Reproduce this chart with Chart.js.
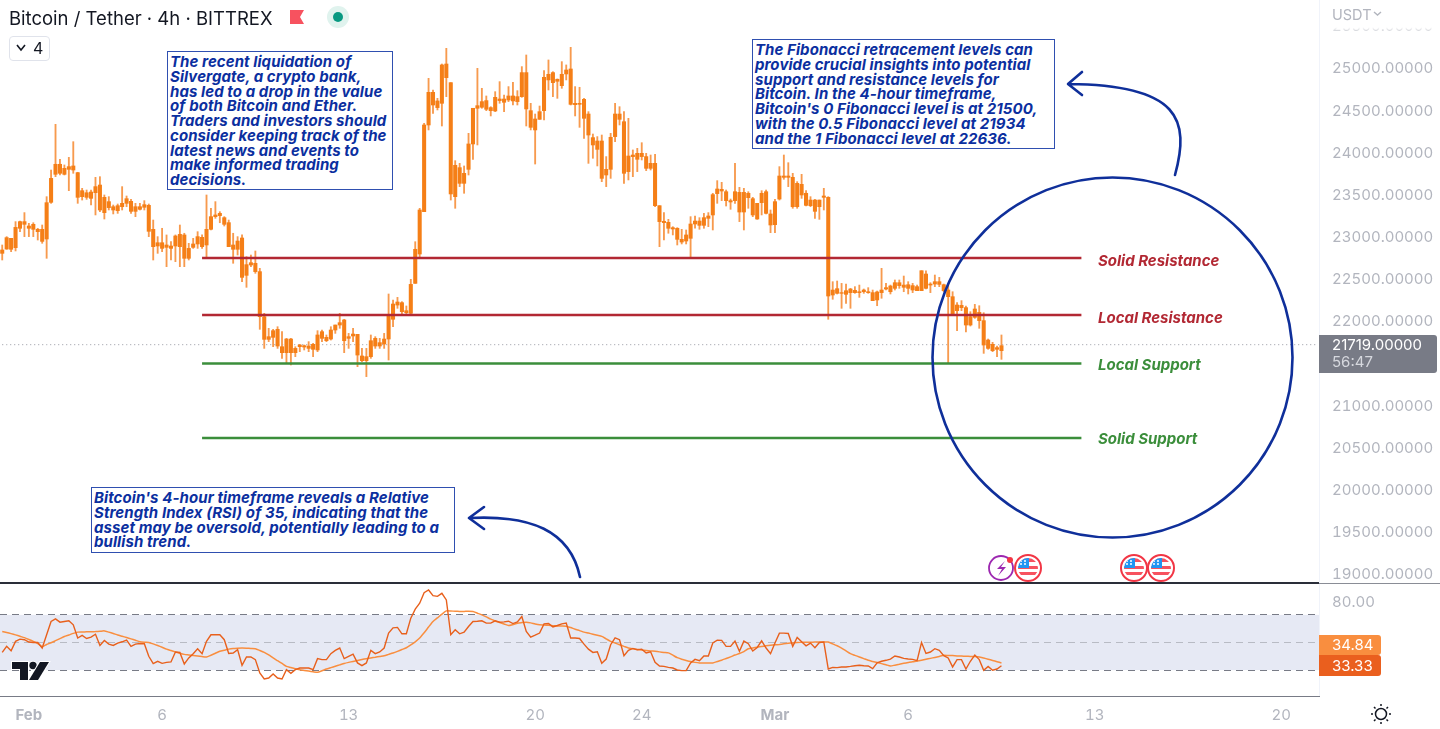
<!DOCTYPE html>
<html><head><meta charset="utf-8"><title>Bitcoin / Tether 4h</title>
<script src="https://cdn.jsdelivr.net/npm/chart.js@4"></script>
<style>
html,body{margin:0;padding:0;background:#fff;width:1440px;height:729px;overflow:hidden;font-family:Inter,sans-serif;font-variant-numeric:tabular-nums}
#c{position:absolute;left:0;top:0}
.t{position:absolute;white-space:nowrap}
.note{position:absolute;background:#fff;border:1.5px solid #2f4fb0;box-sizing:border-box;color:#0b2f9f;font:italic 700 15px/14.75px Inter,sans-serif;letter-spacing:.08px;padding:3px 2px 0 2px;white-space:nowrap}
.lvl{position:absolute;font:italic 700 15px/18px Inter,sans-serif;white-space:nowrap}
.r{color:#b22833}.g{color:#3b8e3b}
svg{position:absolute;left:0;top:0;pointer-events:none}
</style></head><body>
<canvas id="c" width="1440" height="729"></canvas>
<div style="position:absolute;left:1319px;top:0;width:1px;height:696px;background:#f0f3fa"></div>
<div style="position:absolute;left:0;top:582px;width:1319px;height:2px;background:#2a2e39"></div>
<div style="position:absolute;left:1319px;top:583px;width:121px;height:1px;background:#8a8d96"></div>
<div style="position:absolute;left:1320px;top:0;width:120px;height:34px;background:linear-gradient(#fff 80%,rgba(255,255,255,0))"></div>
<div class="t" style="left:1332px;top:6px;font:14.5px/18px Inter,sans-serif;color:#b2b5be">USDT</div>
<div class="t" style="left:9px;top:6px;font:18.5px/24px Inter,sans-serif;color:#131722">Bitcoin / Tether · 4h · BITTREX</div>
<div style="position:absolute;left:9px;top:36px;width:39px;height:23px;border:1px solid #e0e3eb;border-radius:4px"></div>
<div class="t" style="left:33px;top:38px;font:16px/20px Inter,sans-serif;color:#131722">4</div>
<div class="note" style="left:167px;top:51px;width:226px;height:139px">The recent liquidation of<br>Silvergate, a crypto bank,<br>has led to a drop in the value<br>of both Bitcoin and Ether.<br>Traders and investors should<br>consider keeping track of the<br>latest news and events to<br>make informed trading<br>decisions.</div>
<div class="note" style="left:752px;top:39px;width:303px;height:110px">The Fibonacci retracement levels can<br>provide crucial insights into potential<br>support and resistance levels for<br>Bitcoin. In the 4-hour timeframe,<br>Bitcoin's 0 Fibonacci level is at 21500,<br>with the 0.5 Fibonacci level at 21934<br>and the 1 Fibonacci level at 22636.</div>
<div class="note" style="left:91px;top:487px;width:364px;height:66px">Bitcoin's 4-hour timeframe reveals a Relative<br>Strength Index (RSI) of 35, indicating that the<br>asset may be oversold, potentially leading to a<br>bullish trend.</div>
<div class="lvl r" style="left:1098px;top:252px">Solid Resistance</div>
<div class="lvl r" style="left:1098px;top:309px">Local Resistance</div>
<div class="lvl g" style="left:1098px;top:356px">Local Support</div>
<div class="lvl g" style="left:1098px;top:430px">Solid Support</div>
<div style="position:absolute;left:1319px;top:335px;width:118px;height:38px;background:#787b86;border-radius:0 3px 3px 0"></div>
<div class="t" style="left:1332px;top:336px;font:15px/18px Inter,sans-serif;color:#fff">21719.00000</div>
<div class="t" style="left:1332px;top:353px;font:15px/18px Inter,sans-serif;color:#d6d8de">56:47</div>
<div style="position:absolute;left:1319px;top:635px;width:62px;height:20px;background:#f98e3f;border-radius:0 3px 3px 0"></div>
<div class="t" style="left:1332px;top:636px;font:15px/18px Inter,sans-serif;color:#fff">34.84</div>
<div style="position:absolute;left:1319px;top:655px;width:62px;height:21px;background:#ea5f1e;border-radius:0 3px 3px 0"></div>
<div class="t" style="left:1332px;top:657px;font:15px/18px Inter,sans-serif;color:#fff">33.33</div>
<svg width="1440" height="729" viewBox="0 0 1440 729" fill="none">
<circle cx="1112.5" cy="357.5" r="180" stroke="#0f2f9a" stroke-width="2.6"/>
<path d="M1175 175C1190 120 1180 85 1069 84M1082 72L1068 84L1082 95" stroke="#0f2f9a" stroke-width="2.6" stroke-linecap="round" stroke-linejoin="round"/>
<path d="M580 577C570 530 530 515 470 518M484 507L469 518L484 529" stroke="#0f2f9a" stroke-width="2.6" stroke-linecap="round" stroke-linejoin="round"/>
<path d="M17 45L21 50L25 45" stroke="#131722" stroke-width="1.6"/>
<path d="M290 10H304L300 17L304 24H290Z" fill="#f7525f"/>
<circle cx="338" cy="17" r="11" fill="#e0f3ee"/><circle cx="338" cy="17" r="5" fill="#089981"/>
<path d="M1374 12L1377.5 15L1381 12" stroke="#b2b5be" stroke-width="1.4"/>
<circle cx="1381" cy="714" r="5.5" stroke="#131722" stroke-width="1.5"/>
<path d="M1381 704V706M1381 722V724M1371 714H1373M1389 714H1391M1374 707L1375.5 708.5M1386.5 719.5L1388 721M1374 721L1375.5 719.5M1386.5 708.5L1388 707" stroke="#131722" stroke-width="1.5"/>
<path d="M12 662H28V680H20V669H12Z" fill="#131722" stroke="#fff" stroke-width="2" paint-order="stroke"/>
<circle cx="33" cy="665.5" r="3.7" fill="#131722" stroke="#fff" stroke-width="2" paint-order="stroke"/>
<path d="M40 662H49L38 680H29Z" fill="#131722" stroke="#fff" stroke-width="2" paint-order="stroke"/>
<circle cx="1001" cy="568" r="12" fill="#fff" stroke="#9c27b0" stroke-width="1.8"/>
<path d="M1005 561L997 569H1002L998 576L1006 567H1001Z" fill="#9c27b0"/>
<circle cx="1010" cy="560" r="3" fill="#f23645"/>
<defs><g id="flag"><circle r="13" fill="#fff" stroke="#f23645" stroke-width="2"/><clipPath id="fc"><circle r="10"/></clipPath><g clip-path="url(#fc)"><rect x="-10" y="-10" width="20" height="4" fill="#f7525f"/><rect x="-10" y="-2" width="20" height="3" fill="#f7525f"/><rect x="-10" y="4" width="20" height="3" fill="#f7525f"/><rect x="-10" y="-10" width="11" height="10" fill="#2196f3"/><path d="M-8-7h2m2 0h2m-6 3h2m2 0h2" stroke="#fff" stroke-width="1.4"/></g></g></defs>
<use href="#flag" x="1028" y="568"/><use href="#flag" x="1134" y="568"/><use href="#flag" x="1161" y="568"/>
</svg>
<script>
const tickBars=[6,36,78,120,144,174,204,246,288];
const tickLabels=['Feb','6','13','20','24','Mar','6','13','20'];
const priceTicks=[25500,25000,24500,24000,23500,23000,22500,22000,21500,21000,20500,20000,19500,19000];
const rsiTicks=[80,70,50,30];
const resistanceLevels=[22747,22071];
const supportLevels=[21496,20612];
const lastPrice=21719;
const wickHigh=[22901,23000,22980,23178,23185,23285,23158,23165,23099,23138,23474,23790,24332,23917,23850,23940,24126,23763,23573,23553,23553,23703,23711,23494,23474,23375,23387,23593,23482,23442,23395,23395,23427,23387,23197,23000,23099,23020,22940,23020,23138,23040,22921,22980,23059,23020,23494,23336,23415,23296,23237,23197,23040,23000,23020,22763,22782,22830,22624,22091,21913,21901,21932,21873,21794,21794,21695,21723,21715,21755,21735,21885,21893,21834,21932,21952,22091,22020,21853,21913,21842,21675,21675,21834,21814,21794,21853,22320,22249,22280,22229,22178,22494,22940,23336,24344,24877,24739,24640,25047,25233,24826,23901,23869,23838,24225,24522,24996,24759,24668,24541,24719,24838,24680,24779,24830,24731,25016,25154,24581,24454,24549,24968,25095,24956,24870,25075,25036,25245,24779,24771,24640,24482,24217,24186,24205,23949,24225,24581,24541,24482,24403,24028,24047,24114,23988,23968,23976,23367,23285,23205,23118,23106,23087,23079,23237,23245,23225,23276,23285,23514,23664,23644,23553,23446,23869,23585,23573,23533,23466,23395,23545,23553,23316,23442,23830,23968,23877,23751,23652,23739,23545,23474,23442,23434,23573,23474,22466,22474,22446,22438,22387,22407,22426,22379,22395,22367,22355,22624,22446,22426,22486,22486,22533,22466,22446,22426,22596,22596,22454,22545,22517,22438,22426,22347,22217,22241,22178,22110,22197,22181,22098,21786,21747,21703,21834];
const wickLow=[22723,22850,22822,22830,23059,23000,23000,23000,22960,22921,22743,23395,23711,23731,23731,23545,23751,23395,23434,23442,23375,23257,23296,23209,23316,23269,23276,23316,23355,23276,23237,23316,23316,23000,22723,22802,22822,22644,22723,22703,22644,22644,22723,22861,22861,22861,22743,23079,23217,23165,23126,22881,22684,22782,22466,22399,22644,22565,21901,21675,21755,21695,21675,21557,21498,21478,21577,21636,21656,21636,21577,21636,21755,21755,21774,21853,21913,21624,21675,21755,21458,21517,21340,21557,21675,21675,21675,21537,21932,22150,22071,22071,22071,22446,22743,23296,24265,24462,24502,24312,24660,23434,23336,23593,23514,23731,23917,24087,24522,24494,24431,24482,24581,24482,24601,24561,24561,24652,24312,24265,23861,24391,24383,24739,24660,24640,24759,24858,24561,24431,24296,24166,23869,23929,23838,23652,23593,23691,24126,24324,23632,23672,23711,23771,23909,23783,23790,23355,22881,22960,23040,23020,22901,22913,22913,22743,23099,23087,23099,23118,23079,23395,23427,23363,23324,23395,23178,23079,23336,23237,23205,23257,23269,23047,23047,23434,23680,23593,23336,23336,23454,23363,23355,23217,23205,23316,22020,22257,22320,22150,22209,22150,22328,22280,22328,22328,22241,22181,22269,22367,22320,22367,22387,22347,22320,22336,22359,22359,22379,22336,22407,22407,22347,21498,22071,21885,22122,21869,21940,22031,21913,21616,21664,21636,21577,21545];
const bodyHigh=[22842,22988,22980,23110,23178,23178,23126,23146,23087,23087,23403,23691,23858,23858,23810,23830,23838,23759,23545,23521,23529,23593,23612,23466,23415,23355,23367,23395,23450,23419,23355,23355,23379,23371,23087,22928,22928,22901,22889,23008,23027,23020,22861,22913,23000,22992,23087,23237,23257,23276,23225,23166,22901,22948,22984,22668,22691,22684,22585,22051,21814,21885,21901,21695,21786,21786,21675,21715,21707,21703,21723,21834,21873,21806,21893,21952,21980,22012,21814,21845,21842,21585,21577,21766,21794,21743,21786,22071,22201,22225,22217,22122,22434,22850,23316,24324,24711,24711,24609,25036,25047,24826,23846,23818,23751,24099,24522,24553,24601,24613,24530,24652,24632,24632,24668,24668,24660,24945,24945,24494,24395,24482,24889,24925,24945,24866,24925,24976,24988,24581,24581,24628,24454,24174,24134,24134,23798,24178,24454,24454,24363,23956,23968,23988,23988,23949,23869,23869,23367,23182,23170,23106,23099,22968,23020,23150,23185,23185,23225,23245,23498,23565,23561,23533,23427,23533,23525,23525,23514,23450,23395,23514,23533,23269,23415,23719,23719,23719,23703,23632,23620,23514,23434,23434,23434,23482,23466,22367,22383,22336,22359,22379,22363,22347,22367,22347,22336,22344,22367,22395,22415,22454,22454,22426,22430,22419,22407,22596,22557,22438,22466,22466,22430,22367,22288,22189,22185,22158,22051,22142,22102,22004,21774,21723,21684,21707];
const bodyLow=[22802,22853,22850,22869,23099,23146,23099,23087,23059,22944,22972,23407,23739,23751,23739,23798,23790,23466,23474,23466,23454,23521,23316,23284,23344,23316,23308,23355,23395,23300,23300,23324,23348,23063,22881,22889,22861,22873,22861,22889,22881,22743,22743,22873,22913,22881,22901,23087,23237,23249,23146,22881,22850,22850,22517,22541,22664,22585,22051,21782,21782,21806,21703,21624,21624,21624,21624,21695,21691,21675,21664,21656,21794,21766,21786,21893,21952,21766,21794,21822,21596,21529,21529,21577,21703,21703,21727,21786,22020,22189,22110,22098,22091,22446,22794,23296,24324,24561,24530,24581,24885,23506,23474,23632,23632,23798,24099,24522,24534,24510,24494,24490,24613,24593,24620,24609,24601,24660,24514,24296,24265,24391,24494,24858,24826,24842,24790,24929,24569,24565,24569,24403,24205,24087,24035,23691,23731,23798,24186,24391,23751,23771,23949,23917,23949,23810,23810,23367,23178,23166,23099,23091,22968,22936,22948,22980,23150,23134,23134,23217,23257,23510,23541,23427,23411,23427,23292,23292,23462,23257,23209,23403,23276,23138,23142,23446,23703,23703,23355,23355,23494,23371,23367,23300,23355,23466,22296,22308,22328,22328,22316,22336,22336,22336,22347,22336,22241,22249,22336,22379,22347,22387,22419,22399,22387,22367,22359,22359,22387,22426,22438,22434,22359,22288,22075,22122,22158,21952,21952,22043,22004,21715,21675,21648,21664,21648];
const rsiValues=[42.8,47.2,44.0,50.8,52.4,52.0,50.3,50.0,50.0,46.0,55.6,65.2,67.1,64.7,65.2,65.7,62.8,53.2,55.1,52.9,53.9,56.0,47.9,51.5,48.8,47.9,49.6,50.5,51.7,47.2,48.8,49.3,49.1,40.0,34.7,36.4,34.9,35.6,35.9,43.1,42.8,34.4,38.8,41.9,45.5,41.9,50.8,55.6,55.6,55.6,52.0,42.1,42.4,44.8,33.5,39.5,39.5,37.6,27.9,23.6,24.3,27.2,24.3,23.6,30.3,27.7,30.3,31.5,31.5,31.5,30.3,38.3,37.6,37.6,41.9,44.3,46.0,38.3,40.0,41.6,35.2,33.2,35.2,44.3,41.9,43.1,46.0,56.8,60.6,60.9,56.3,56.3,67.6,74.1,78.4,86.1,88.0,83.9,83.4,85.6,80.8,55.6,59.2,56.3,57.5,61.6,65.2,65.4,65.7,64.0,64.0,65.7,64.7,64.9,65.4,63.7,64.9,68.8,58.0,53.9,55.3,56.8,63.5,63.7,61.3,62.3,63.5,64.0,53.2,53.2,52.9,48.8,45.2,42.8,43.3,34.9,38.0,48.4,53.4,52.0,40.4,44.3,45.7,44.8,45.2,42.4,43.3,35.6,33.0,32.7,32.0,31.5,30.1,29.6,29.6,35.2,37.8,36.8,40.2,40.2,49.6,51.7,51.5,47.2,47.2,51.0,43.6,51.0,49.1,43.8,46.4,51.2,46.0,41.9,49.6,56.8,56.8,56.5,47.2,53.6,50.5,47.6,49.6,46.2,50.0,50.3,30.8,32.0,31.8,32.3,32.3,32.7,33.2,33.5,33.2,33.0,31.1,35.2,36.4,37.1,38.0,40.2,39.5,38.5,38.0,37.8,36.8,50.0,42.1,43.1,45.5,44.3,40.4,38.8,32.3,37.6,37.6,30.8,36.4,40.9,37.6,29.9,32.7,29.9,30.8,33.2];
const rsiAverage=[58.0,57.2,56.4,55.5,54.5,53.5,52.2,50.8,49.2,47.0,48.5,49.8,51.3,52.8,54.3,55.4,56.6,57.5,57.6,57.7,57.8,57.9,58.1,58.4,57.5,56.5,55.4,54.5,53.6,52.6,51.6,50.6,50.2,50.0,49.0,47.8,46.5,45.2,44.2,43.2,42.2,41.4,41.0,40.6,40.2,39.8,39.5,40.8,42.2,43.6,44.4,45.2,45.7,45.9,46.0,45.9,45.7,45.5,44.2,42.8,41.0,38.8,36.8,34.8,32.7,31.9,31.0,30.3,29.8,29.3,28.8,28.4,29.5,30.8,31.8,32.8,33.8,34.8,35.6,36.3,37.0,37.7,38.3,38.8,39.3,39.9,40.4,41.4,42.4,43.6,44.9,46.2,48.2,50.5,53.2,57.0,61.2,65.2,67.8,70.5,72.9,72.8,72.6,72.5,72.5,72.6,72.4,71.2,70.0,68.5,66.9,65.6,64.5,63.4,62.3,63.0,64.0,64.4,64.7,64.2,63.4,62.8,62.6,62.4,62.2,62.0,61.9,61.8,60.8,59.6,58.6,57.5,56.8,56.0,55.2,54.4,52.6,50.8,49.6,48.4,47.2,46.0,45.4,44.9,44.5,44.2,43.9,43.6,43.2,42.8,42.5,40.8,39.0,37.9,37.0,36.2,35.6,35.2,35.1,35.1,35.2,36.2,37.2,38.4,39.6,40.9,42.0,43.4,45.5,46.0,46.6,47.1,47.6,48.0,48.3,48.6,49.0,49.4,49.7,50.0,50.1,50.2,50.2,50.3,50.3,50.3,50.3,49.0,47.6,45.9,43.9,41.9,40.7,39.5,38.3,37.1,36.3,35.5,34.7,33.9,33.0,33.6,34.2,34.9,35.5,36.1,36.5,37.1,37.8,38.5,39.2,39.9,40.7,40.6,40.5,40.3,40.2,40.0,39.9,39.8,39.5,38.7,37.9,37.0,36.1,35.2];

const slotCount=297, levelFirstBar=45, levelLastBar=243;
const slots=Array.from({length:slotCount},(_,k)=>new Date(Date.UTC(2023,0,31,4*k)).toISOString().slice(0,16));
const levelLine=(v,color)=>({type:'line',yAxisID:'y',data:slots.map((_,k)=>k===levelFirstBar||k===levelLastBar?v:null),spanGaps:true,borderColor:color,borderWidth:2.6,pointRadius:0,order:1});
const bandPlugin={id:'band',beforeDraw(ch){const s=ch.scales.rsi,a=ch.chartArea,c=ch.ctx;const t=s.getPixelForValue(70),b=s.getPixelForValue(30);c.save();c.fillStyle='#e6e9f4';c.fillRect(a.left,t,a.right-a.left,b-t);c.restore();}};
const tickFont=ctx=>({family:'Inter',size:15,weight:'400'});
const noPad=s=>{s.paddingTop=0;s.paddingBottom=0;s.paddingLeft=0;s.paddingRight=0;};
new Chart(document.getElementById('c'),{
  plugins:[bandPlugin],
  data:{labels:slots,datasets:[
    {type:'line',yAxisID:'y',data:slots.map(()=>lastPrice),borderColor:'#9598a1',borderWidth:1,borderDash:[1,3],pointRadius:0,order:5},
    {type:'bar',yAxisID:'y',data:wickLow.map((v,i)=>[v,wickHigh[i]]),backgroundColor:'#f79a4e',barThickness:1.2,grouped:false,order:3},
    {type:'bar',yAxisID:'y',data:bodyLow.map((v,i)=>[v,bodyHigh[i]]),backgroundColor:'#f57f17',barThickness:3.4,grouped:false,order:2},
    levelLine(resistanceLevels[0],'#b22833'),levelLine(resistanceLevels[1],'#b22833'),
    levelLine(supportLevels[0],'#3b8e3b'),levelLine(supportLevels[1],'#3b8e3b'),
    {type:'line',yAxisID:'rsi',data:rsiAverage,borderColor:'#f98e3f',borderWidth:1.5,pointRadius:0,tension:0.2,order:1},
    {type:'line',yAxisID:'rsi',data:rsiValues,borderColor:'#e8601c',borderWidth:1.4,pointRadius:0,order:0}
  ]},
  options:{responsive:false,animation:false,events:[],
    layout:{padding:0,autoPadding:false},
    plugins:{legend:{display:false},tooltip:{enabled:false}},
    scales:{
      x:{type:'category',position:'bottom',offset:true,
        grid:{display:false,drawTicks:false},border:{display:true,color:'#787b86'},
        afterBuildTicks(s){s.ticks=tickBars.map(v=>({value:v}));},
        afterFit(s){s.height=33;noPad(s);},
        ticks:{autoSkip:false,maxRotation:0,padding:10,color:'#b2b5be',
          font:c=>({family:'Inter',size:15,weight:/[A-Z]/.test(String(c.tick&&c.tick.label))?'700':'400'}),
          callback:(v,i)=>tickLabels[i]}},
      y:{type:'linear',position:'right',stack:'panes',stackWeight:583,min:18893,max:25806,
        grid:{display:false,drawTicks:false},border:{display:false},
        afterBuildTicks(s){s.ticks=priceTicks.map(v=>({value:v}));},
        afterFit(s){s.width=121;noPad(s);},
        ticks:{autoSkip:false,padding:13,labelOffset:1,color:'#b2b5be',font:tickFont,callback:v=>v.toFixed(5)}},
      rsi:{type:'linear',position:'right',stack:'panes',stackWeight:113,min:11.26,max:93.06,
        grid:{display:true,drawTicks:false,lineWidth:1,color:c=>c.tick.value===80?'rgba(0,0,0,0)':c.tick.value===50?'#b8bbc4':'#787b86'},
        border:{display:false,dash:[7,5]},
        afterBuildTicks(s){s.ticks=rsiTicks.map(v=>({value:v}));},
        afterFit(s){s.width=121;noPad(s);},
        ticks:{autoSkip:false,padding:13,labelOffset:1,color:'#b2b5be',font:tickFont,callback:v=>v===80?v.toFixed(2):''}}
    }
  }
});
</script>
</body></html>
